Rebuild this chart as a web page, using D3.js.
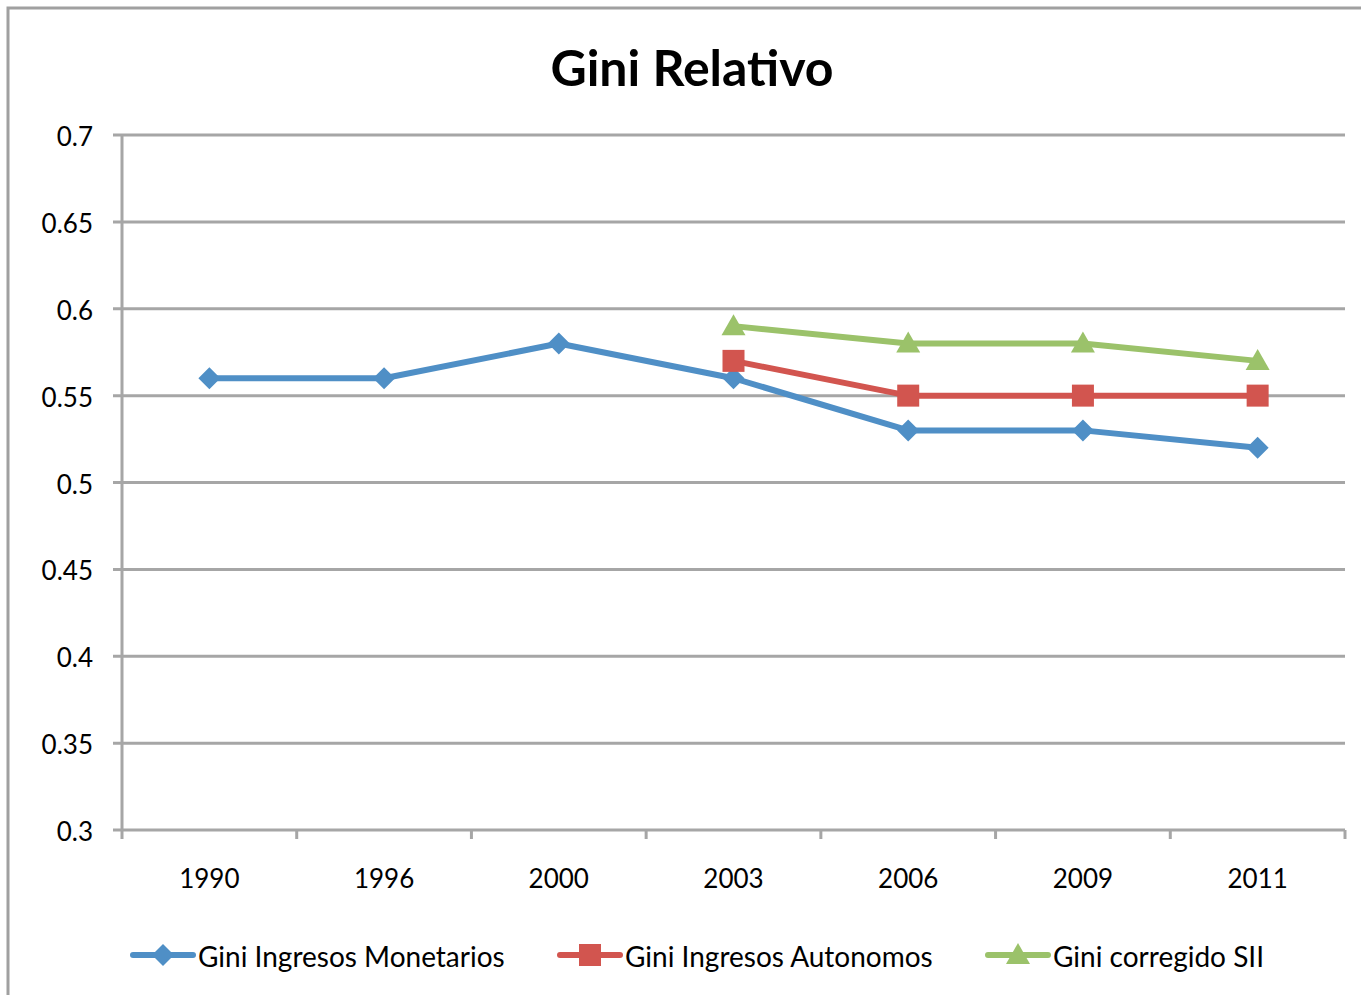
<!DOCTYPE html>
<meta charset="utf-8">
<script src="https://cdn.jsdelivr.net/npm/d3@7"></script>
<style>
body { margin: 0; background: #fff; }
text { font-family: Lato, "Open Sans", sans-serif; fill: #000; }
</style>
<body>
<script>

var years = ["1990", "1996", "2000", "2003", "2006", "2009", "2011"];
var yTicks = [0.3, 0.35, 0.4, 0.45, 0.5, 0.55, 0.6, 0.65, 0.7];
var monetarios = [0.56, 0.56, 0.58, 0.56, 0.53, 0.53, 0.52];
var autonomos = [null, null, null, 0.57, 0.55, 0.55, 0.55];
var corregido = [null, null, null, 0.59, 0.58, 0.58, 0.57];

var series = [
  {name: "Gini Ingresos Monetarios", values: monetarios, color: "#4f8fc6", shape: "diamond"},
  {name: "Gini Ingresos Autonomos", values: autonomos, color: "#d2554f", shape: "square"},
  {name: "Gini corregido SII", values: corregido, color: "#9bc26a", shape: "triangle"}
];

var width = 1361, height = 995;
var plotLeft = 122, plotRight = 1345, plotTop = 135, plotBottom = 830;

var svg = d3.select("body").append("svg")
    .attr("width", width)
    .attr("height", height);

// outer frame
svg.append("rect")
    .attr("x", 8).attr("y", 8)
    .attr("width", 1365).attr("height", 1000)
    .attr("fill", "none")
    .attr("stroke", "#a0a0a0")
    .attr("stroke-width", 3);

svg.append("text")
    .attr("x", 692).attr("y", 86)
    .attr("text-anchor", "middle")
    .style("font-size", "50px")
    .style("font-weight", "bold")
    .text("Gini Relativo");

var x = d3.scaleBand().domain(years).range([plotLeft, plotRight]);
var y = d3.scaleLinear().domain([0.3, 0.7]).range([plotBottom, plotTop]);

// gridlines
svg.append("g")
    .selectAll("line")
    .data(yTicks)
    .enter().append("line")
    .attr("x1", plotLeft - 9).attr("x2", plotRight)
    .attr("y1", function(d) { return y(d); })
    .attr("y2", function(d) { return y(d); })
    .attr("stroke", "#a6a6a6")
    .attr("stroke-width", 3);

// y axis line
svg.append("line")
    .attr("x1", plotLeft).attr("x2", plotLeft)
    .attr("y1", plotTop).attr("y2", plotBottom + 9)
    .attr("stroke", "#a6a6a6").attr("stroke-width", 3);

// y labels
svg.append("g")
    .selectAll("text")
    .data(yTicks)
    .enter().append("text")
    .attr("x", 93)
    .attr("y", function(d) { return y(d) + 11; })
    .attr("text-anchor", "end")
    .style("font-size", "26px")
    .text(function(d) { return d3.format("")(d); });

// x ticks at category boundaries
var bounds = years.map(function(d) { return x(d) + x.bandwidth(); });
svg.append("g")
    .selectAll("line")
    .data(bounds)
    .enter().append("line")
    .attr("x1", function(d) { return d; })
    .attr("x2", function(d) { return d; })
    .attr("y1", plotBottom).attr("y2", plotBottom + 9)
    .attr("stroke", "#a6a6a6").attr("stroke-width", 3);

svg.append("g")
    .selectAll("text")
    .data(years)
    .enter().append("text")
    .attr("x", function(d) { return x(d) + x.bandwidth() / 2; })
    .attr("y", 888)
    .attr("text-anchor", "middle")
    .style("font-size", "26px")
    .text(function(d) { return d; });

function marker(g, shape, color) {
  if (shape === "diamond") {
    g.append("path").attr("d", "M0,-11L11,0L0,11L-11,0Z").attr("fill", color);
  } else if (shape === "square") {
    g.append("rect").attr("x", -11).attr("y", -11).attr("width", 22).attr("height", 22).attr("fill", color);
  } else {
    g.append("path").attr("d", "M0,-12L12,9L-12,9Z").attr("fill", color);
  }
}

var line = d3.line()
    .defined(function(d) { return d.v !== null; })
    .x(function(d) { return x(d.year) + x.bandwidth() / 2; })
    .y(function(d) { return y(d.v); });

series.forEach(function(s) {
  var pts = years.map(function(yr, i) { return {year: yr, v: s.values[i]}; });
  svg.append("path")
      .datum(pts)
      .attr("d", line)
      .attr("fill", "none")
      .attr("stroke", s.color)
      .attr("stroke-width", 6)
      .attr("stroke-linejoin", "round");
  pts.filter(function(d) { return d.v !== null; }).forEach(function(d) {
    var g = svg.append("g")
        .attr("transform", "translate(" + (x(d.year) + x.bandwidth() / 2) + "," + y(d.v) + ")");
    marker(g, s.shape, s.color);
  });
});

// legend
var legendX = [133, 560, 988];
series.forEach(function(s, i) {
  var g = svg.append("g").attr("transform", "translate(" + legendX[i] + ",955)");
  g.append("line").attr("x1", 0).attr("x2", 60).attr("y1", 0).attr("y2", 0)
      .attr("stroke", s.color).attr("stroke-width", 6).attr("stroke-linecap", "round");
  var m = g.append("g").attr("transform", "translate(30,0)");
  marker(m, s.shape, s.color);
  g.append("text").attr("x", 65).attr("y", 12)
      .style("font-size", "28px")
      .text(s.name);
});

</script>
</body>
